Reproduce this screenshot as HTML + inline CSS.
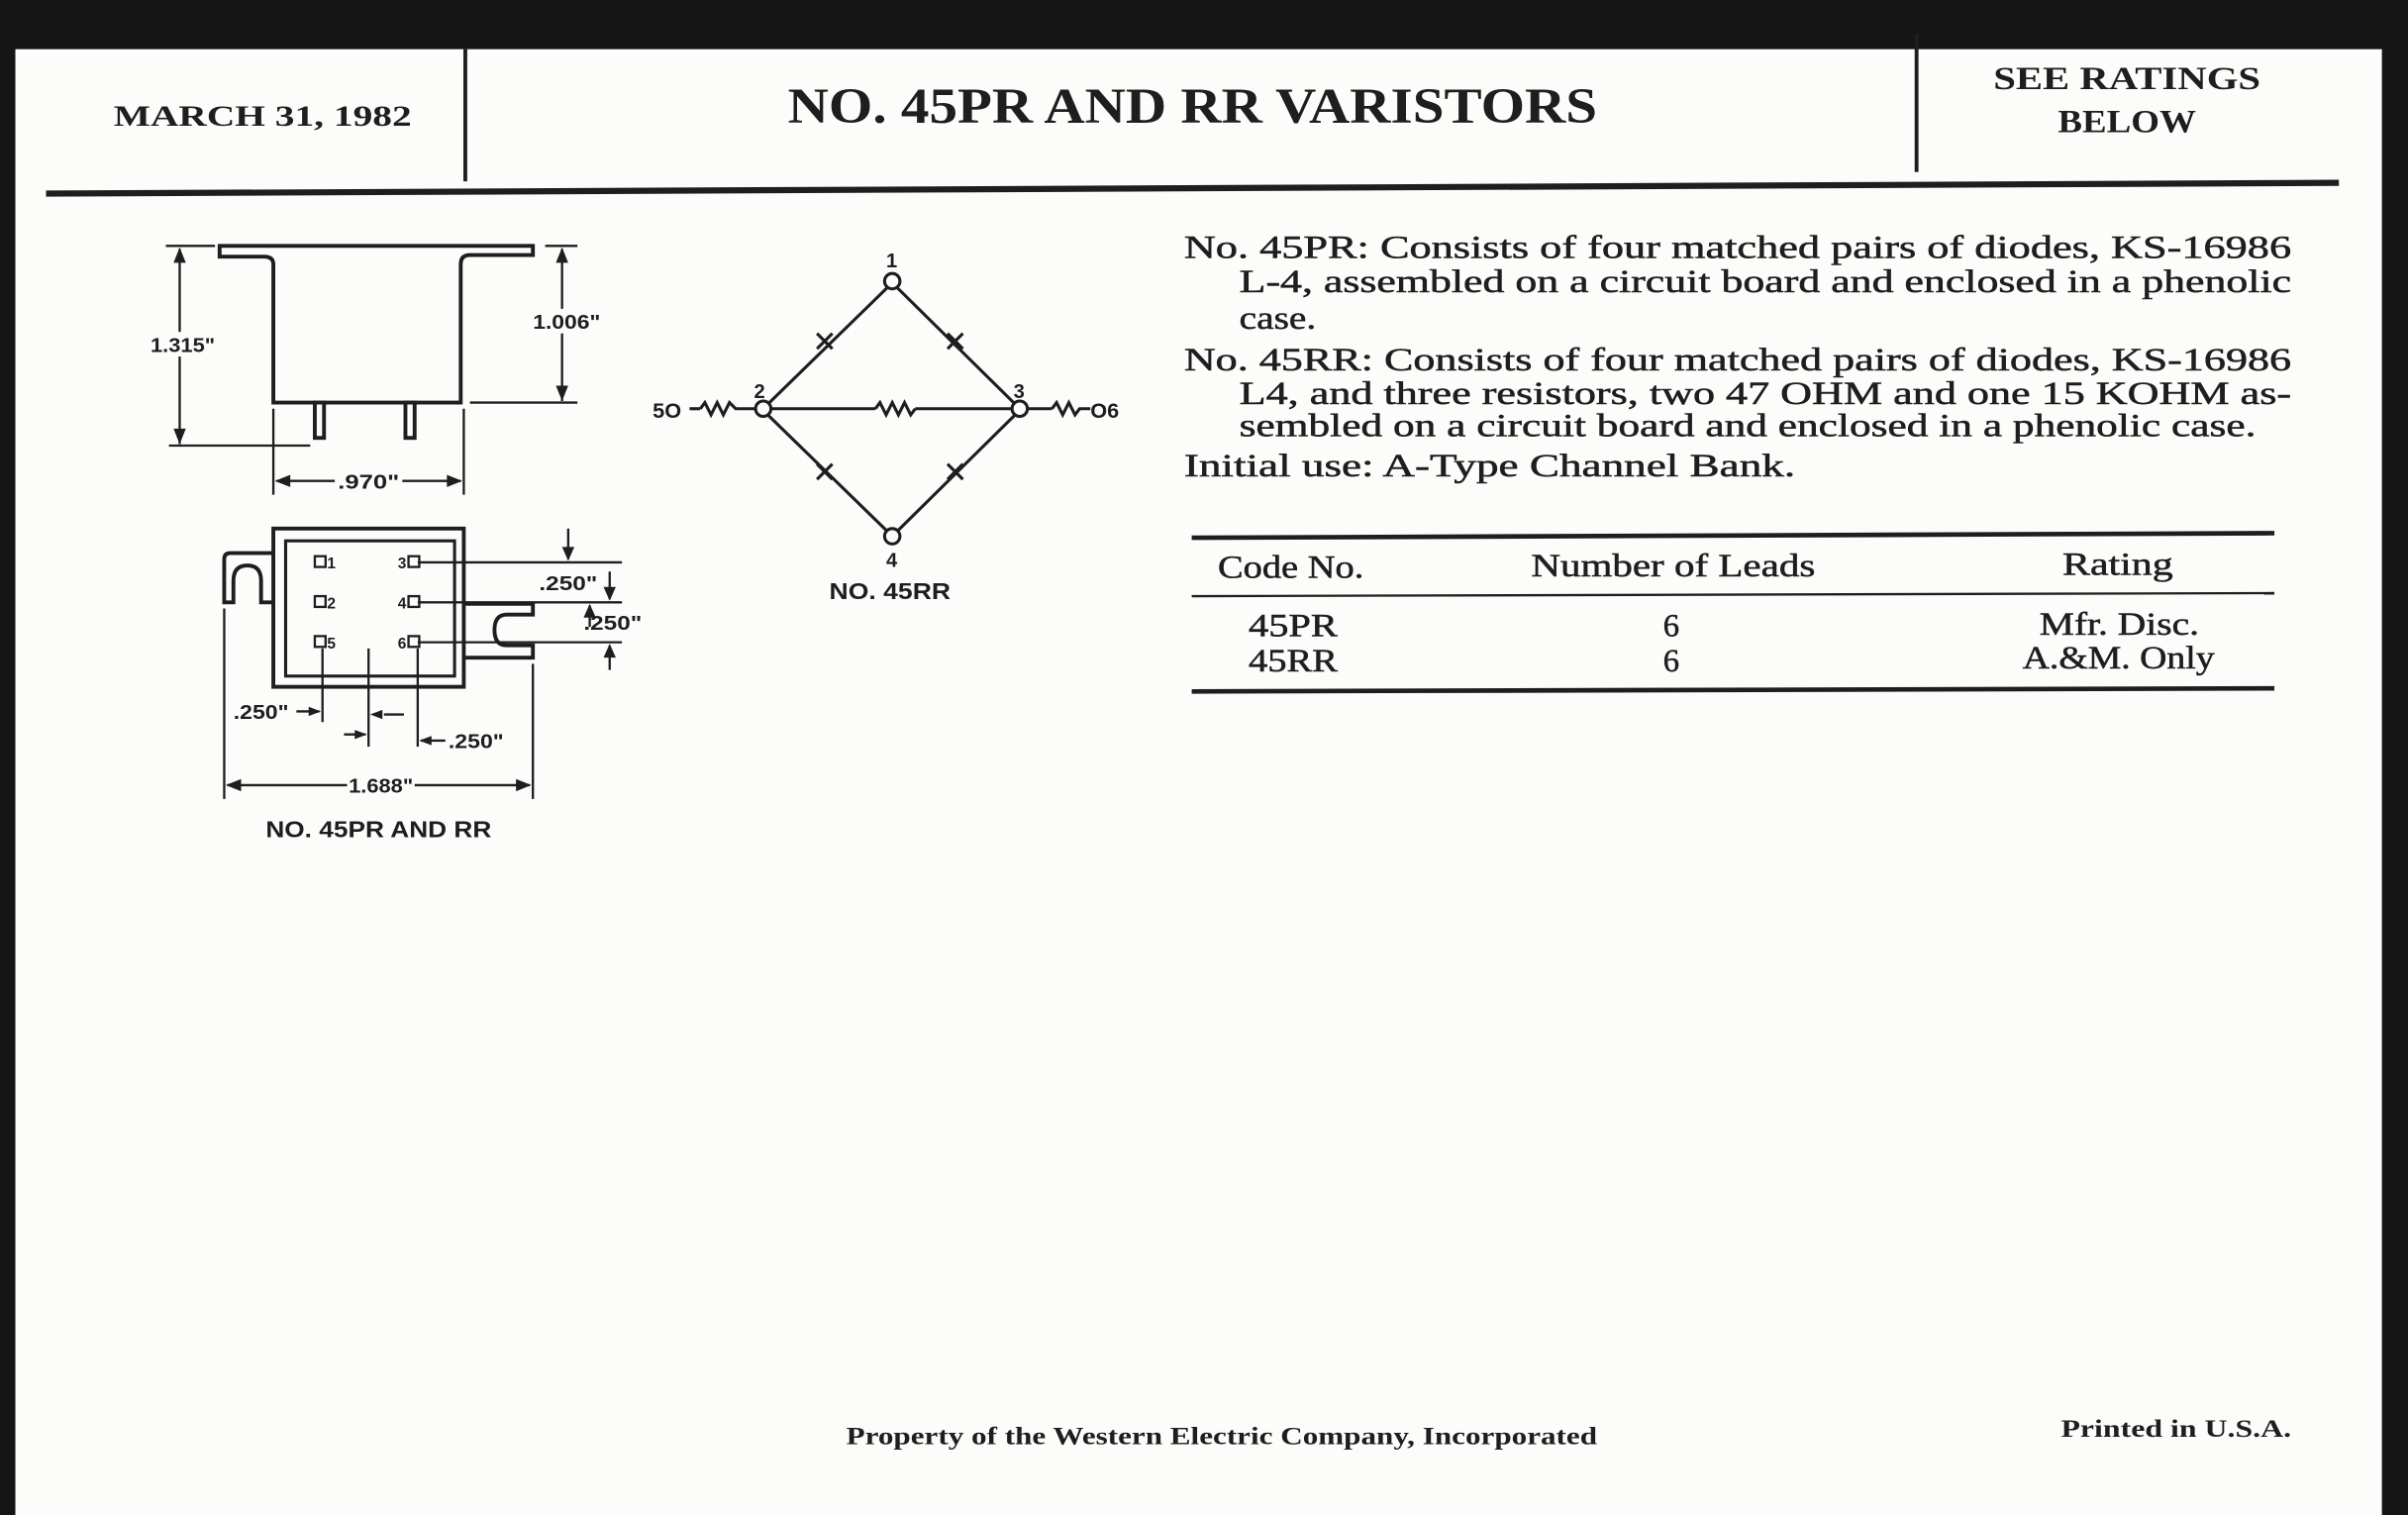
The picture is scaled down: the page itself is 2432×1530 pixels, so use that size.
<!DOCTYPE html>
<html><head><meta charset="utf-8"><style>
html,body{margin:0;padding:0;background:#1a1a1a;}
svg{display:block;}
text{font-family:"Liberation Serif",serif;fill:#1e1e1e;}
.s{font-family:"Liberation Sans",sans-serif;font-weight:bold;}
</style></head><body>
<svg width="2432" height="1530" viewBox="0 0 1568 986" preserveAspectRatio="none" xmlns="http://www.w3.org/2000/svg">
<rect x="0" y="0" width="1568" height="986" fill="#151515"/>
<rect x="10" y="32" width="1541" height="954" fill="#fcfcfa"/>
<g stroke="#1e1e1e" fill="none">
<line x1="303" y1="32" x2="303" y2="118" stroke-width="2.5"/>
<line x1="1248" y1="22" x2="1248" y2="112" stroke-width="2.5"/>
<line x1="30" y1="126" x2="1523" y2="119" stroke-width="4"/>
<line x1="776" y1="350" x2="1481" y2="347" stroke-width="3"/>
<line x1="776" y1="388" x2="1481" y2="386" stroke-width="1.5"/>
<line x1="776" y1="450" x2="1481" y2="448" stroke-width="3"/>
</g>
<text x="74" y="82" font-size="19" font-weight="bold" textLength="194" lengthAdjust="spacingAndGlyphs">MARCH 31, 1982</text>
<text x="513" y="80" font-size="33" font-weight="bold" textLength="527" lengthAdjust="spacingAndGlyphs">NO. 45PR AND RR VARISTORS</text>
<text x="1298" y="58" font-size="21" font-weight="bold" textLength="174" lengthAdjust="spacingAndGlyphs">SEE RATINGS</text>
<text x="1340" y="86" font-size="21" font-weight="bold" textLength="90" lengthAdjust="spacingAndGlyphs">BELOW</text>
<g font-size="21" stroke="#1e1e1e" stroke-width="0.35">
<text x="771" y="168" textLength="721" lengthAdjust="spacingAndGlyphs">No. 45PR:  Consists of four matched pairs of diodes, KS-16986</text>
<text x="807" y="190" textLength="685" lengthAdjust="spacingAndGlyphs">L-4, assembled on a circuit board and enclosed in a phenolic</text>
<text x="807" y="214" textLength="50" lengthAdjust="spacingAndGlyphs">case.</text>
<text x="771" y="241" textLength="721" lengthAdjust="spacingAndGlyphs">No. 45RR:  Consists of four matched pairs of diodes, KS-16986</text>
<text x="807" y="263" textLength="685" lengthAdjust="spacingAndGlyphs">L4, and three resistors, two 47 OHM and one 15 KOHM as-</text>
<text x="807" y="284" textLength="662" lengthAdjust="spacingAndGlyphs">sembled on a circuit board and enclosed in a phenolic case.</text>
<text x="771" y="310" textLength="398" lengthAdjust="spacingAndGlyphs">Initial use:  A-Type Channel Bank.</text>
<text x="793" y="376" textLength="95" lengthAdjust="spacingAndGlyphs">Code No.</text>
<text x="997" y="375" textLength="185" lengthAdjust="spacingAndGlyphs">Number of Leads</text>
<text x="1343" y="374" textLength="72" lengthAdjust="spacingAndGlyphs">Rating</text>
<text x="813" y="414" textLength="58" lengthAdjust="spacingAndGlyphs">45PR</text>
<text x="813" y="437" textLength="58" lengthAdjust="spacingAndGlyphs">45RR</text>
<text x="1083" y="414">6</text>
<text x="1083" y="437">6</text>
<text x="1328" y="413" textLength="104" lengthAdjust="spacingAndGlyphs">Mfr. Disc.</text>
<text x="1317" y="435" textLength="125" lengthAdjust="spacingAndGlyphs">A.&amp;M. Only</text>
</g>
<text x="551" y="940" font-size="16" font-weight="bold" textLength="489" lengthAdjust="spacingAndGlyphs">Property of the Western Electric Company, Incorporated</text>
<text x="1342" y="935" font-size="16" font-weight="bold" textLength="150" lengthAdjust="spacingAndGlyphs">Printed in U.S.A.</text>

<!-- side view -->
<g stroke="#1e1e1e" fill="none" stroke-width="2.5">
<path d="M143,160 L347,160 L347,166 L306,166 Q300,166 300,172 L300,262 L178,262 L178,172 Q178,167 172,167 L143,167 Z"/>
<rect x="205" y="262" width="6" height="23"/>
<rect x="264" y="262" width="6" height="23"/>
<g stroke-width="1.5">
<line x1="117" y1="162" x2="117" y2="289"/><line x1="108" y1="160" x2="140" y2="160"/><line x1="110" y1="290" x2="202" y2="290"/>
<line x1="366" y1="162" x2="366" y2="261"/><line x1="355" y1="160" x2="376" y2="160"/><line x1="306" y1="262" x2="376" y2="262"/>
<line x1="178" y1="266" x2="178" y2="322"/><line x1="302" y1="266" x2="302" y2="322"/>
<line x1="180" y1="313" x2="218" y2="313"/><line x1="262" y1="313" x2="300" y2="313"/>
</g>
</g>
<g fill="#1e1e1e">
<path d="M117,161 l-4,10 h8 z M117,289 l-4,-10 h8 z M366,161 l-4,10 h8 z M366,261 l-4,-10 h8 z M179,313 l10,-4 v8 z M301,313 l-10,-4 v8 z"/>
</g>
<rect x="97" y="216" width="44" height="16" fill="#fcfcfa"/>
<rect x="346" y="201" width="46" height="16" fill="#fcfcfa"/>
<text class="s" x="98" y="229" font-size="13" textLength="42" lengthAdjust="spacingAndGlyphs">1.315"</text>
<text class="s" x="347" y="214" font-size="13" textLength="44" lengthAdjust="spacingAndGlyphs">1.006"</text>
<text class="s" x="220" y="318" font-size="13" textLength="40" lengthAdjust="spacingAndGlyphs">.970"</text>

<!-- bottom view -->
<g stroke="#1e1e1e" fill="none" stroke-width="2.5">
<rect x="178" y="344" width="124" height="103"/>
<rect x="186" y="352" width="110" height="88" stroke-width="2"/>
<path d="M178,360 L150,360 Q146,360 146,364 L146,392 L152,392 L152,378 Q152,368 161,368 Q170,368 170,378 L170,392 L178,392"/>
<path d="M302,393 L347,393 L347,400 L330,400 Q322,400 322,410 Q322,420 330,420 L347,420 L347,428 L302,428"/>
<g stroke-width="1.5">
<line x1="272" y1="366" x2="405" y2="366"/><line x1="272" y1="392" x2="405" y2="392"/><line x1="272" y1="418" x2="405" y2="418"/>
<line x1="370" y1="344" x2="370" y2="364"/><line x1="397" y1="372" x2="397" y2="390"/><line x1="397" y1="420" x2="397" y2="436"/>
<line x1="210" y1="422" x2="210" y2="470"/><line x1="240" y1="422" x2="240" y2="486"/><line x1="272" y1="422" x2="272" y2="486"/>
<line x1="146" y1="396" x2="146" y2="520"/><line x1="347" y1="432" x2="347" y2="520"/>
<line x1="148" y1="511" x2="226" y2="511"/><line x1="270" y1="511" x2="345" y2="511"/>
<line x1="193" y1="463" x2="208" y2="463"/><line x1="224" y1="478" x2="238" y2="478"/><line x1="250" y1="465" x2="263" y2="465"/><line x1="274" y1="482" x2="290" y2="482"/>
</g>
</g>
<g fill="#1e1e1e">
<path d="M370,365 l-4,-9 h8 z M397,391 l-4,-9 h8 z M384,393 l-4,9 h8 z M397,419 l-4,9 h8 z M147,511 l10,-4 v8 z M346,511 l-10,-4 v8 z M209,463 l-8,-3 v6 z M239,478 l-8,-3 v6 z M241,465 l8,-3 v6 z M273,482 l8,-3 v6 z"/>
</g>
<line x1="384" y1="394" x2="384" y2="408" stroke="#1e1e1e" stroke-width="1.5"/>
<g fill="none" stroke="#1e1e1e" stroke-width="1.5">
<rect x="205" y="362" width="7" height="7"/><rect x="205" y="388" width="7" height="7"/><rect x="205" y="414" width="7" height="7"/>
<rect x="266" y="362" width="7" height="7"/><rect x="266" y="388" width="7" height="7"/><rect x="266" y="414" width="7" height="7"/>
</g>
<g>
<text class="s" x="213" y="370" font-size="10">1</text><text class="s" x="213" y="396" font-size="10">2</text><text class="s" x="213" y="422" font-size="10">5</text>
<text class="s" x="259" y="370" font-size="10">3</text><text class="s" x="259" y="396" font-size="10">4</text><text class="s" x="259" y="422" font-size="10">6</text>
</g>
<text class="s" x="351" y="384" font-size="13" textLength="38" lengthAdjust="spacingAndGlyphs">.250"</text>
<text class="s" x="380" y="410" font-size="13" textLength="38" lengthAdjust="spacingAndGlyphs">.250"</text>
<text class="s" x="152" y="468" font-size="13" textLength="36" lengthAdjust="spacingAndGlyphs">.250"</text>
<text class="s" x="292" y="487" font-size="13" textLength="36" lengthAdjust="spacingAndGlyphs">.250"</text>
<text class="s" x="227" y="516" font-size="13" textLength="42" lengthAdjust="spacingAndGlyphs">1.688"</text>
<text class="s" x="173" y="545" font-size="15" textLength="147" lengthAdjust="spacingAndGlyphs">NO. 45PR AND RR</text>

<!-- schematic -->
<g stroke="#1e1e1e" fill="none" stroke-width="2">
<line x1="584" y1="187" x2="661" y2="263"/><line x1="578" y1="187" x2="500" y2="263"/>
<line x1="500" y1="270" x2="578" y2="346"/><line x1="661" y1="270" x2="584" y2="346"/>
<line x1="502" y1="266" x2="570" y2="266"/><line x1="596" y1="266" x2="659" y2="266"/>
<polyline points="570,266 573,262 577,270 581,262 585,270 589,262 593,270 596,266"/>
<line x1="449" y1="266" x2="456" y2="266"/>
<polyline points="456,266 459,262 463,270 467,262 471,270 475,262 479,266 492,266"/>
<line x1="669" y1="266" x2="685" y2="266"/>
<polyline points="685,266 688,262 692,270 696,262 700,270 703,266 710,266"/>
<circle cx="581" cy="183" r="5" fill="#fcfcfa"/><circle cx="497" cy="266" r="5" fill="#fcfcfa"/>
<circle cx="664" cy="266" r="5" fill="#fcfcfa"/><circle cx="581" cy="349" r="5" fill="#fcfcfa"/>
<path d="M532,217 l10,10 M532,227 l10,-10 M617,217 l10,10 M617,227 l10,-10 M532,302 l10,10 M532,312 l10,-10 M617,302 l10,10 M617,312 l10,-10"/>
</g>
<g>
<text class="s" x="577" y="174" font-size="13">1</text><text class="s" x="491" y="259" font-size="13">2</text><text class="s" x="660" y="259" font-size="13">3</text><text class="s" x="577" y="369" font-size="13">4</text>
<text class="s" x="425" y="272" font-size="14">5O</text><text class="s" x="710" y="272" font-size="14">O6</text>
</g>
<text class="s" x="540" y="390" font-size="15" textLength="79" lengthAdjust="spacingAndGlyphs">NO. 45RR</text>
</svg>
</body></html>
